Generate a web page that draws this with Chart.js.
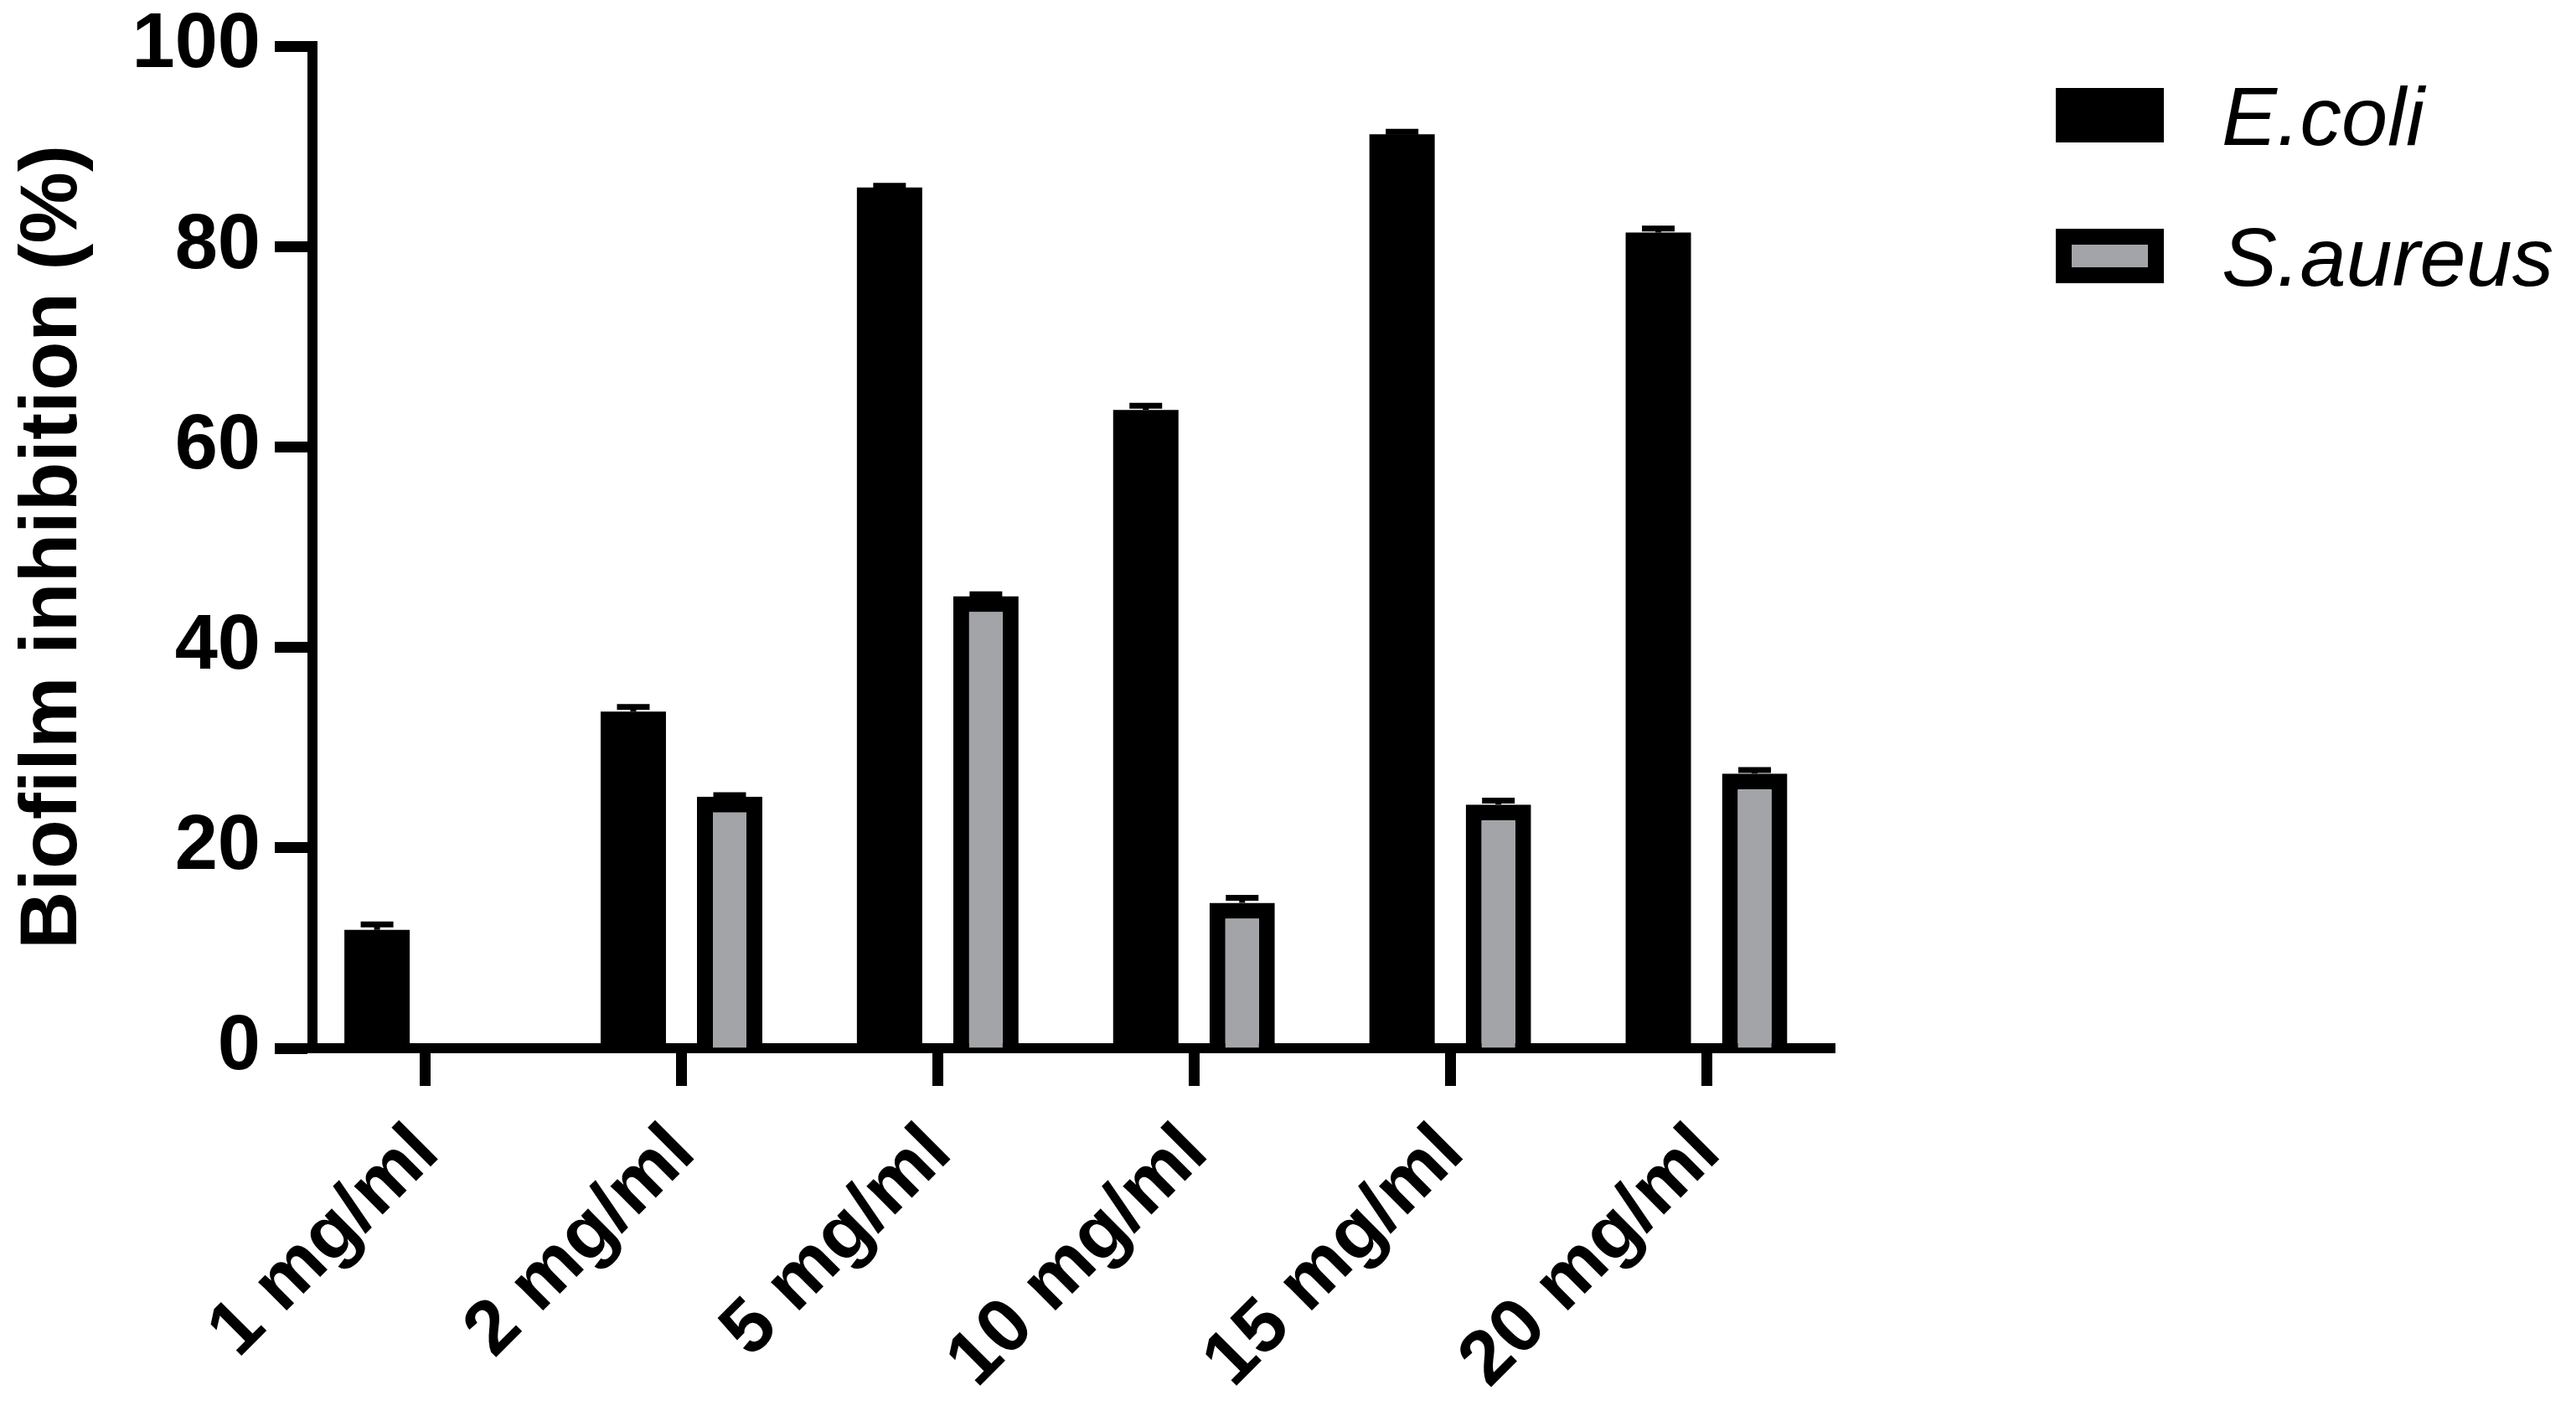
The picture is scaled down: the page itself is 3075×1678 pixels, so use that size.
<!DOCTYPE html>
<html>
<head>
<meta charset="utf-8">
<title>Biofilm inhibition</title>
<script src="https://cdn.jsdelivr.net/npm/chart.js@4.4.1/dist/chart.umd.min.js"></script>
<style>
  html, body { margin: 0; padding: 0; background: #fff; }
  canvas { display: block; }
</style>
</head>
<body>
<canvas id="chart" width="3075" height="1678"></canvas>
<script>
// concentrations tested
const categories = ['1 mg/ml', '2 mg/ml', '5 mg/ml', '10 mg/ml', '15 mg/ml', '20 mg/ml'];

// biofilm inhibition (%)
const ecoliValues = [11.8, 33.6, 85.9, 63.7, 91.2, 81.4];
const saureusValues = [null, 25.1, 45.1, 14.5, 24.3, 27.4];

// upper error bars
const ecoliErrors = [0.55, 0.45, 0.15, 0.4, 0.25, 0.4];
const saureusErrors = [0, 0.15, 0.2, 0.5, 0.4, 0.35];

// y axis ticks 0..100 step 20
const yMin = 0;
const yMax = 100;
const yStep = 20;

const FONT = '"Liberation Sans", Arial, Helvetica, sans-serif';

// error bars: only the upper part, like Prism "above"
const errorBars = {
    id: 'errorBars',
    afterDatasetsDraw(chart) {
        const ctx = chart.ctx;
        const yScale = chart.scales.y;
        chart.data.datasets.forEach((ds, di) => {
            const meta = chart.getDatasetMeta(di);
            meta.data.forEach((bar, i) => {
                const v = ds.data[i];
                if (v == null || !ds.errors) return;
                const top = yScale.getPixelForValue(v + ds.errors[i]);
                const half = bar.width / 4;
                ctx.save();
                ctx.strokeStyle = '#000';
                ctx.lineWidth = 7;
                ctx.beginPath();
                ctx.moveTo(bar.x, bar.y);
                ctx.lineTo(bar.x, top);
                ctx.moveTo(bar.x - half, top);
                ctx.lineTo(bar.x + half, top);
                ctx.stroke();
                ctx.restore();
            });
        });
    }
};

// legend on the right, boxes drawn like the bars
const sideLegend = {
    id: 'sideLegend',
    afterDraw(chart) {
        const { ctx, chartArea } = chart;
        const boxW = 129, boxH = 65, frame = 19;
        const x = chartArea.right + 264;
        chart.data.datasets.forEach((ds, i) => {
            const y = chartArea.top + 50 + i * 168;
            ctx.save();
            ctx.fillStyle = '#000';
            ctx.fillRect(x, y, boxW, boxH);
            ctx.fillStyle = ds.backgroundColor;
            ctx.fillRect(x + frame, y + frame, boxW - 2 * frame, boxH - 2 * frame);
            ctx.fillStyle = '#000';
            ctx.font = 'italic 99px ' + FONT;
            ctx.textBaseline = 'alphabetic';
            ctx.textAlign = 'left';
            ctx.fillText(ds.label, x + 198, y + 68);
            ctx.restore();
        });
    }
};

const ctx = document.getElementById('chart').getContext('2d');
new Chart(ctx, {
    type: 'bar',
    data: {
        labels: categories.map((_, i) => i),
        datasets: [
            {
                label: 'E.coli',
                data: ecoliValues,
                errors: ecoliErrors,
                backgroundColor: '#000000',
                borderWidth: 0
            },
            {
                label: 'S.aureus',
                data: saureusValues,
                errors: saureusErrors,
                backgroundColor: '#a3a4a8',
                borderColor: '#000000',
                borderWidth: 19
            }
        ]
    },
    options: {
        responsive: false,
        animation: false,
        devicePixelRatio: 1,
        categoryPercentage: 0.752,
        barPercentage: 0.678,
        layout: { padding: { top: 55, right: 885, bottom: 0, left: 0 } },
        plugins: {
            legend: { display: false },
            tooltip: { enabled: false }
        },
        scales: {
            x: {
                type: 'linear',
                min: -0.44,
                max: 5.5,
                offset: false,
                z: 1,
                grid: {
                    offset: false,
                    drawOnChartArea: false,
                    drawTicks: true,
                    tickLength: 45,
                    tickWidth: 13,
                    tickColor: '#000'
                },
                border: { display: true, color: '#000', width: 12 },
                ticks: {
                    stepSize: 1,
                    includeBounds: false,
                    autoSkip: false,
                    minRotation: 45,
                    maxRotation: 45,
                    padding: 33,
                    labelOffset: 2,
                    color: '#000',
                    font: { family: FONT, size: 91, weight: 'bold', lineHeight: 1 },
                    callback: (v) => categories[v]
                },
                afterFit: (scale) => { scale.height = 427; }
            },
            y: {
                min: yMin,
                max: yMax,
                z: 1,
                grid: {
                    drawOnChartArea: false,
                    tickLength: 45,
                    tickWidth: 13,
                    tickColor: '#000'
                },
                border: { color: '#000', width: 12 },
                ticks: {
                    stepSize: yStep,
                    padding: 17,
                    color: '#000',
                    font: { family: FONT, size: 92, weight: 'bold', lineHeight: 0.8 }
                },
                title: {
                    display: true,
                    text: 'Biofilm inhibition (%)',
                    color: '#000',
                    font: { family: FONT, size: 96, weight: 'bold', lineHeight: 1 },
                    padding: { top: 17, bottom: 0 }
                },
                afterFit: (scale) => { scale.width = 373; }
            }
        }
    },
    plugins: [errorBars, sideLegend]
});
</script>
</body>
</html>
